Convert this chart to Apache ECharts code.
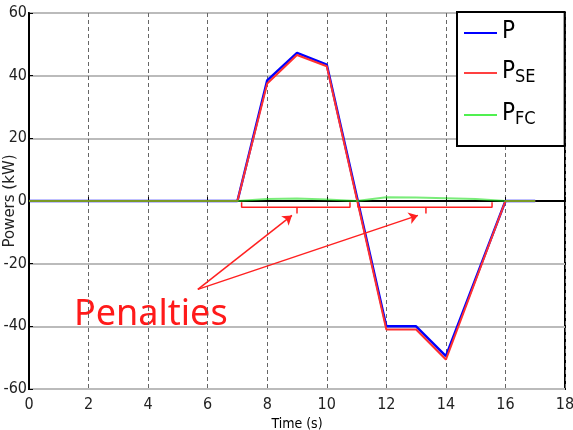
<!DOCTYPE html>
<html>
<head>
<meta charset="utf-8">
<script src="https://cdn.jsdelivr.net/npm/echarts@6/dist/echarts.min.js"></script>
<style>
  html, body { margin: 0; padding: 0; background: #fff; }
  #chart { width: 573px; height: 430px; }
</style>
</head>
<body>
<div id="chart"></div>
<script>
// time stamps (s) and powers (kW)
const tP = [0, 7, 8, 9, 10, 12, 13, 14, 16, 17];
const powerP = [0, 0, 38.5, 47.3, 43.5, -40, -40, -49.5, 0, 0];
const powerSE = [0, 0, 37.5, 46.6, 43, -41, -41, -50.6, 0, 0];
const tFC = [0, 7, 8, 9, 10, 11, 12, 13, 14, 15, 16, 17];
const powerFC = [0, 0, 0.6, 0.8, 0.5, 0, 1.2, 1.1, 0.9, 0.6, 0, 0];

// penalty brackets: [start, middle, end] in seconds
const brackets = [[7.14, 9.0, 10.78], [11.05, 13.33, 15.55]];
const arrowTail = [5.67, -28.2];
const arrowHeads = [[8.83, -4.6], [13.06, -4.6]];

const FONT = '"Liberation Sans Narrow", "DejaVu Sans Condensed", "Liberation Sans", Arial, sans-serif';

const pairs = (xs, ys) => xs.map((x, i) => [x, ys[i]]);

// bracket polyline: up-end, down to bar, tick down & back, other end
const bracketData = [];
brackets.forEach(([a, m, b], i) => {
  if (i > 0) bracketData.push([null, '-']);
  bracketData.push([a, -0.4], [a, -2], [m, -2], [m, -4], [m, -2], [b, -2], [b, -0.4]);
});

const chart = echarts.init(document.getElementById('chart'));

const option = {
  animation: false,
  grid: {
    left: 29, right: 8, top: 13, bottom: 41,
    outerBoundsMode: 'none',
    show: true, borderColor: '#000', borderWidth: 2, backgroundColor: '#fff'
  },
  xAxis: {
    type: 'value', min: 0, max: 18, interval: 2,
    name: 'Time (s)', nameLocation: 'middle', nameGap: 28, nameMoveOverlap: false,
    nameTextStyle: { fontFamily: FONT, fontSize: 14, color: '#000' },
    axisLine: { lineStyle: { color: '#000', width: 2 } },
    axisTick: { inside: true, length: 4, lineStyle: { color: '#000' } },
    axisLabel: { fontFamily: FONT, fontSize: 16, color: '#222', margin: 8 },
    splitLine: { show: true, lineStyle: { color: '#666', type: [4, 3], width: 1 } }
  },
  yAxis: {
    type: 'value', min: -60, max: 60, interval: 20,
    name: 'Powers (kW)', nameLocation: 'middle', nameGap: 11, nameRotate: 90,
    nameMoveOverlap: false,
    nameTextStyle: { fontFamily: '"DejaVu Sans", sans-serif', fontSize: 15, color: '#222' },
    axisLine: { lineStyle: { color: '#000', width: 2 } },
    axisTick: { inside: true, length: 4, lineStyle: { color: '#000' } },
    axisLabel: { fontFamily: FONT, fontSize: 16, color: '#222', margin: 2 },
    splitLine: { show: true, lineStyle: { color: '#bbb', width: 2 } }
  },
  legend: {
    orient: 'vertical', left: 457, top: 12,
    data: ['P', 'PSE', 'PFC'],
    borderColor: '#000', borderWidth: 2, backgroundColor: '#fff',
    padding: [8, 29, 18, 7], itemGap: 6, itemWidth: 33, itemHeight: 2,
    icon: 'rect',
    textStyle: {
      rich: {
        p: { fontFamily: FONT, fontSize: 24, lineHeight: 26, color: '#000', verticalAlign: 'top' },
        s: { fontFamily: FONT, fontSize: 18, lineHeight: 18, color: '#000', verticalAlign: 'bottom', padding: [18, 0, 0, 0] }
      }
    },
    formatter: name => name === 'P' ? '{p|P}' : '{p|P}{s|' + name.slice(1) + '}'
  },
  series: [
    {
      name: 'P', type: 'line', data: pairs(tP, powerP), symbol: 'none',
      lineStyle: { color: '#0000ff', width: 2.5 }, itemStyle: { color: '#0000ff' }
    },
    {
      name: 'PSE', type: 'line', data: pairs(tP, powerSE), symbol: 'none',
      lineStyle: { color: '#ff3030', width: 2 }, itemStyle: { color: '#ff4040' }
    },
    {
      name: 'PFC', type: 'line', data: pairs(tFC, powerFC), symbol: 'none',
      lineStyle: { color: '#20e020', width: 2, opacity: 0.6 }, itemStyle: { color: '#50f050' }
    },
    {
      name: 'penalties', type: 'line', data: bracketData, symbol: 'none',
      connectNulls: false, silent: true,
      lineStyle: { color: '#ff2020', width: 1.5 },
      markLine: {
        silent: true, symbol: ['none', 'arrow'], symbolSize: 9,
        label: { show: false },
        lineStyle: { color: '#ff2020', width: 1.5, type: 'solid' },
        data: arrowHeads.map(h => [{ coord: arrowTail }, { coord: h }])
      }
    }
  ],
  graphic: [
    {
      type: 'text', left: 74, top: 297, silent: true,
      style: { text: 'Penalties', font: '36px "Noto Sans", "Open Sans", sans-serif', fill: '#ff1a1a' }
    }
  ]
};

chart.setOption(option);
</script>
</body>
</html>
